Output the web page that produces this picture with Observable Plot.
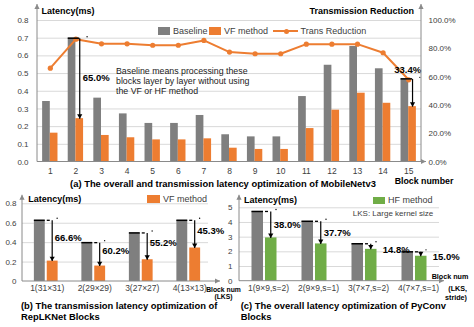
<!DOCTYPE html>
<html>
<head>
<meta charset="utf-8">
<script src="https://cdn.jsdelivr.net/npm/d3@7"></script>
<script src="https://cdn.jsdelivr.net/npm/@observablehq/plot@0.6"></script>
<style>
  html, body { margin: 0; padding: 0; background: #fff; }
  #wrap { position: relative; width: 474px; height: 327px; overflow: hidden; font-family: "Liberation Sans", Arial, sans-serif; color: #404040; background: #fff; }
  #wrap svg { position: absolute; left: 0; top: 0; }
  .t { position: absolute; white-space: nowrap; line-height: 1; }
  .box { position: absolute; }
</style>
</head>
<body>
<div id="wrap"></div>
<script>
// ---------- DATA ----------
// (a) MobileNetv3
const blocksA = ["1","2","3","4","5","6","7","8","9","10","11","12","13","14","15"];
const baselineA = [0.342,0.700,0.361,0.272,0.218,0.218,0.263,0.154,0.142,0.142,0.370,0.547,0.653,0.527,0.470];
const vfA       = [0.163,0.245,0.150,0.137,0.125,0.125,0.131,0.078,0.071,0.071,0.189,0.293,0.389,0.332,0.313];
const transA    = [66.3,86.8,83.5,83.5,82.5,82.5,85.9,77.7,76.5,76.5,83.3,83.3,83.3,77.2,58.1];
const annotBlocksA = ["2","15"];
const annotLabelsA = ["65.0%","33.4%"];
const ticksA = [0,0.1,0.2,0.3,0.4,0.5,0.6,0.7,0.8];
const rightTicksA = [0,20,40,60,80,100];

// (b) RepLKNet
const blocksB = ["1(31×31)","2(29×29)","3(27×27)","4(13×13)"];
const baselineB = [0.63,0.40,0.50,0.63];
const vfB       = [0.21,0.159,0.224,0.345];
const labelsB   = ["66.6%","60.2%","55.2%","45.3%"];
const ticksB = [0,0.2,0.4,0.6,0.8];

// (c) PyConv
const blocksC = ["1(9×9,s=2)","2(9×9,s=1)","3(7×7,s=2)","4(7×7,s=1)"];
const baselineC = [4.75,4.08,2.55,2.00];
const hfC       = [2.95,2.54,2.17,1.70];
const labelsC   = ["38.0%","37.7%","14.8%","15.0%"];
const ticksC = [0,1,2,3,4,5];

// ---------- STYLE ----------
const FONT = '"Liberation Sans", Arial, sans-serif';
const GRAY = "#7f7f7f", ORANGE = "#ed7d31", GREEN = "#70ad47", GRID = "#d9d9d9", AXIS = "#8a8a8a", TXT = "#404040";
const wrap = document.getElementById("wrap");

const downTri = {draw(ctx, size) {
  const r = Math.sqrt(size / Math.PI);
  ctx.moveTo(-r, -1.7 * r); ctx.lineTo(r, -1.7 * r); ctx.lineTo(0, 0); ctx.closePath();
}};
const svgStyle = () => ({background: "transparent", fontFamily: FONT, color: TXT, overflow: "visible"});

function bandwidth(left, right, n, pi, po) { return (right - left) / (n - pi + 2 * po) * (1 - pi); }

function axisArrow(svg, x1, y1, x2, y2) {
  const g = d3.select(svg).append("g");
  g.append("line").attr("x1", x1).attr("y1", y1).attr("x2", x2).attr("y2", y2)
    .attr("stroke", AXIS).attr("stroke-width", 1);
  const a = Math.atan2(y2 - y1, x2 - x1), L = 5, W = 2.6;
  const bx = x2 - L * Math.cos(a), by = y2 - L * Math.sin(a);
  const pts = [[x2, y2], [bx + W * Math.sin(a), by - W * Math.cos(a)], [bx - W * Math.sin(a), by + W * Math.cos(a)]];
  g.append("polygon").attr("points", pts.map(p => p.join(",")).join(" ")).attr("fill", AXIS);
}

function label(str, x, y, {size = 9, weight = "normal", anchor = "start", color = TXT} = {}) {
  const d = document.createElement("div");
  d.className = "t"; d.textContent = str;
  const tx = anchor === "start" ? "0" : anchor === "middle" ? "-50%" : "-100%";
  Object.assign(d.style, {left: x + "px", top: y + "px", fontSize: size + "px", fontWeight: weight, color, transform: `translate(${tx},-50%)`});
  wrap.appendChild(d);
}
function box(x, y, w, h, color, radius) {
  const d = document.createElement("div");
  d.className = "box";
  Object.assign(d.style, {left: x + "px", top: y + "px", width: w + "px", height: h + "px", background: color, borderRadius: radius || "0"});
  wrap.appendChild(d);
}

// ---------- CHART (a) ----------
const A = {left: 37, right: 421, top: 20, bottom: 161.5, pi: 0.4, po: 0.2};
const bwA = bandwidth(A.left, A.right, blocksA.length, A.pi, A.po);
const yMaxA = ticksA[ticksA.length - 1];
const pctToY = p => p / 100 * yMaxA;
const dataA = blocksA.map((b, i) => ({block: b, base: baselineA[i], vf: vfA[i], trans: transA[i]}));
const annA = annotBlocksA.map((b, k) => {
  const i = blocksA.indexOf(b);
  return {block: b, base: baselineA[i], vf: vfA[i], label: annotLabelsA[k]};
});

const plotA = Plot.plot({
  width: 474, height: 327,
  marginLeft: A.left, marginRight: 474 - A.right, marginTop: A.top, marginBottom: 327 - A.bottom,
  style: svgStyle(),
  x: {domain: blocksA, paddingInner: A.pi, paddingOuter: A.po, round: false, axis: null},
  y: {domain: [0, yMaxA], axis: null},
  marks: [
    Plot.ruleY(ticksA.filter(t => t > 0), {stroke: GRID, strokeWidth: 1}),
    Plot.axisY(ticksA, {anchor: "left", tickSize: 0, tickPadding: 9, fontSize: 8, tickFormat: d => d.toFixed(1), label: null}),
    Plot.axisY(rightTicksA.map(pctToY), {anchor: "right", tickSize: 0, tickPadding: 7, fontSize: 8, tickFormat: v => (v / yMaxA * 100).toFixed(1) + "%", label: null}),
    Plot.axisX({tickSize: 0, tickPadding: 5.5, fontSize: 8.5, label: null}),
    Plot.barY(dataA, {x: "block", y: "base", fill: GRAY, insetRight: bwA / 2}),
    Plot.barY(dataA, {x: "block", y: "vf", fill: ORANGE, insetLeft: bwA / 2}),
    Plot.line(dataA, {x: "block", y: d => pctToY(d.trans), stroke: ORANGE, strokeWidth: 2}),
    Plot.dot(dataA, {x: "block", y: d => pctToY(d.trans), fill: ORANGE, r: 2.6}),
    Plot.tickY(annA, {x: "block", y: "base", stroke: "#000", strokeWidth: 1.5, insetRight: bwA / 4}),
    Plot.link(annA, {x1: "block", x2: "block", y1: "base", y2: "vf", stroke: "#000", strokeWidth: 1.2, dx: bwA / 4}),
    Plot.dot(annA, {x: "block", y: "vf", symbol: downTri, r: 2.6, fill: "#000", dx: bwA / 4}),
    Plot.dot(annA, {x: "block", y: "base", r: 0.7, fill: "#000", dx: bwA / 2 + 3.5, dy: -1.5}),
    Plot.text(annA.filter(d => d.vf < d.base / 2), {x: "block", y: d => (d.base + d.vf) / 2, text: "label", textAnchor: "start", dx: bwA / 4 + 3, fontSize: 9.5, fontWeight: "bold", fill: "#000"}),
    Plot.text(annA.filter(d => d.vf >= d.base / 2), {x: "block", y: "base", text: "label", textAnchor: "middle", dx: -1, dy: -9, fontSize: 9.5, fontWeight: "bold", fill: "#000"})
  ]
});
wrap.appendChild(plotA);
{
  const sx = plotA.scale("x"), sy = plotA.scale("y");
  const [x0, x1] = sx.range, y0 = sy.apply(0), yT = sy.apply(yMaxA);
  axisArrow(plotA, x0, y0, x0, yT - 16);
  axisArrow(plotA, x1, y0, x1, yT - 16);
  axisArrow(plotA, x0, y0, x1 + 5, y0);
}

// ---------- CHART (b) ----------
const B = {left: 22, right: 212, top: 203.3, bottom: 281, pi: 0.5, po: 0.25};
const bwB = bandwidth(B.left, B.right, blocksB.length, B.pi, B.po);
const dataB = blocksB.map((b, i) => ({block: b, base: baselineB[i], vf: vfB[i], label: labelsB[i]}));
const yMaxB = ticksB[ticksB.length - 1];

function pairMarks(data, bw, colorB) {
  return [
    Plot.barY(data, {x: "block", y: "base", fill: GRAY, insetRight: bw / 2 + 1}),
    Plot.barY(data, {x: "block", y: "vf", fill: colorB, insetLeft: bw / 2 + 1}),
    Plot.tickY(data, {x: "block", y: "base", stroke: "#000", strokeWidth: 1.5, insetRight: bw / 2 + 1}),
    Plot.tickY(data, {x: "block", y: "base", stroke: "#000", strokeWidth: 1.3, strokeDasharray: "3,2.5", insetLeft: bw / 2 + 1, insetRight: bw / 4}),
    Plot.link(data, {x1: "block", x2: "block", y1: "base", y2: "vf", stroke: "#000", strokeWidth: 1.2, dx: bw / 4}),
    Plot.dot(data, {x: "block", y: "vf", symbol: downTri, r: 2.6, fill: "#000", dx: bw / 4}),
    Plot.dot(data, {x: "block", y: "base", r: 0.7, fill: "#000", dx: bw / 2 - 1, dy: -2})
  ];
}

const plotB = Plot.plot({
  width: 474, height: 327,
  marginLeft: B.left, marginRight: 474 - B.right, marginTop: B.top, marginBottom: 327 - B.bottom,
  style: svgStyle(),
  x: {domain: blocksB, paddingInner: B.pi, paddingOuter: B.po, round: false, axis: null},
  y: {domain: [0, yMaxB], axis: null},
  marks: [
    Plot.ruleY(ticksB.filter(t => t > 0), {stroke: GRID, strokeWidth: 1, insetRight: 4}),
    Plot.axisY(ticksB, {anchor: "left", tickSize: 0, tickPadding: 6, fontSize: 8, tickFormat: d => d === 0 ? "0" : d.toFixed(1), label: null}),
    Plot.axisX({tickSize: 0, tickPadding: 3.5, fontSize: 8.5, dx: 1, label: null}),
    ...pairMarks(dataB, bwB, ORANGE),
    Plot.text(dataB, {x: "block", y: d => (d.base + d.vf) / 2, text: "label", textAnchor: "start", dx: bwB / 4 + 2.5, dy: -3, fontSize: 9.5, fontWeight: "bold", fill: "#000"})
  ]
});
wrap.appendChild(plotB);
{
  const sx = plotB.scale("x"), sy = plotB.scale("y");
  const [x0, x1] = sx.range, y0 = sy.apply(0), yT = sy.apply(yMaxB);
  axisArrow(plotB, x0, y0, x0, yT - 8.5);
  axisArrow(plotB, x0, y0, x1 + 8, y0);
}

// ---------- CHART (c) ----------
const C = {left: 239, right: 439, top: 207.3, bottom: 280.7, pi: 0.5, po: 0.25};
const bwC = bandwidth(C.left, C.right, blocksC.length, C.pi, C.po);
const dataC = blocksC.map((b, i) => ({block: b, base: baselineC[i], vf: hfC[i], label: labelsC[i]}));
const yMaxC = ticksC[ticksC.length - 1];

const plotC = Plot.plot({
  width: 474, height: 327,
  marginLeft: C.left, marginRight: 474 - C.right, marginTop: C.top, marginBottom: 327 - C.bottom,
  style: svgStyle(),
  x: {domain: blocksC, paddingInner: C.pi, paddingOuter: C.po, round: false, axis: null},
  y: {domain: [0, yMaxC], axis: null},
  marks: [
    Plot.ruleY(ticksC.filter(t => t > 0), {stroke: GRID, strokeWidth: 1}),
    Plot.axisY(ticksC, {anchor: "left", tickSize: 0, tickPadding: 7, fontSize: 8, label: null}),
    Plot.axisX({tickSize: 0, tickPadding: 3.8, fontSize: 8.5, dx: 4, label: null}),
    ...pairMarks(dataC, bwC, GREEN),
    Plot.text(dataC.filter(d => d.vf < d.base * 0.8), {x: "block", y: d => (d.base + d.vf) / 2, text: "label", textAnchor: "start", dx: bwC / 4 + 3, fontSize: 9.5, fontWeight: "bold", fill: "#000"}),
    Plot.text(dataC.filter(d => d.vf >= d.base * 0.8), {x: "block", y: "vf", text: "label", textAnchor: "start", dx: bwC / 4 + 12, dy: 1, fontSize: 9.5, fontWeight: "bold", fill: "#000"})
  ]
});
wrap.appendChild(plotC);
{
  const sx = plotC.scale("x"), sy = plotC.scale("y");
  const [x0, x1] = sx.range, y0 = sy.apply(0), yT = sy.apply(yMaxC);
  axisArrow(plotC, x0, y0, x0, yT - 12.5);
  axisArrow(plotC, x0, y0, x1 + 5, y0);
}

// ---------- TEXTS & LEGENDS ----------
// (a)
label("Latency(ms)", 41.5, 11, {weight: "bold", color: "#000"});
label("Transmission Reduction", 414, 11, {weight: "bold", anchor: "end", color: "#000"});
box(158, 27, 12, 8, GRAY);
label("Baseline", 173, 31, {size: 9});
box(209, 27, 12, 8, ORANGE);
label("VF method", 224, 31, {size: 9});
box(273, 30, 25, 2, ORANGE);
box(283.5, 28.5, 5, 5, ORANGE, "50%");
label("Trans Reduction", 300.5, 31, {size: 9});
label("Baseline means processing these", 116, 71, {size: 8.8, color: "#222"});
label("blocks layer by layer without using", 116, 81, {size: 8.8, color: "#222"});
label("the VF or HF method", 116, 91, {size: 8.8, color: "#222"});
label("Block number", 424, 180.5, {size: 8.8, weight: "bold", anchor: "middle", color: "#000"});
label("(a) The overall and transmission latency optimization of MobileNetv3", 223, 183.5, {size: 9.4, weight: "bold", anchor: "middle", color: "#000"});

// (b)
label("Latency(ms)", 28.3, 199, {weight: "bold", color: "#000"});
box(147, 195, 13, 8, ORANGE);
label("VF method", 163, 199, {size: 9});
label("Block num", 223.5, 289.5, {size: 6.8, weight: "bold", anchor: "middle", color: "#000"});
label("(LKS)", 223.5, 297.2, {size: 6.8, weight: "bold", anchor: "middle", color: "#000"});
label("(b) The transmission latency optimization of", 21, 305.7, {size: 9.4, weight: "bold", color: "#000"});
label("RepLKNet Blocks", 21, 316.7, {size: 9.4, weight: "bold", color: "#000"});

// (c)
label("Latency(ms)", 244, 199.7, {weight: "bold", color: "#000"});
box(372.7, 196.5, 12, 7, GREEN);
label("HF method", 388, 199.7, {size: 9});
label("LKS: Large kernel size", 433.3, 214.3, {size: 8, anchor: "end"});
label("Block num", 450, 276.7, {size: 7.2, weight: "bold", anchor: "middle", color: "#000"});
label("(LKS,", 467, 289.3, {size: 7.2, weight: "bold", anchor: "end", color: "#000"});
label("stride)", 467, 297.5, {size: 7.2, weight: "bold", anchor: "end", color: "#000"});
label("(c) The overall latency optimization of PyConv", 240.7, 305.7, {size: 9.4, weight: "bold", color: "#000"});
label("Blocks", 240.7, 316.7, {size: 9.4, weight: "bold", color: "#000"});
</script>
</body>
</html>
